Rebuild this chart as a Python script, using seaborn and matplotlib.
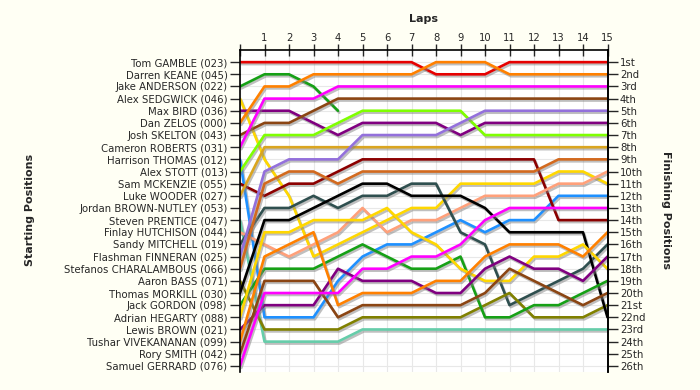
import matplotlib
matplotlib.use("Agg")
import matplotlib.pyplot as plt
import matplotlib.patheffects as pe
import pandas as pd
import seaborn as sns

laps = list(range(16))

drivers = [
    "Tom GAMBLE (023)", "Darren KEANE (045)", "Jake ANDERSON (022)", "Alex SEDGWICK (046)",
    "Max BIRD (036)", "Dan ZELOS (000)", "Josh SKELTON (043)", "Cameron ROBERTS (031)",
    "Harrison THOMAS (012)", "Alex STOTT (013)", "Sam MCKENZIE (055)", "Luke WOODER (027)",
    "Jordan BROWN-NUTLEY (053)", "Steven PRENTICE (047)", "Finlay HUTCHISON (044)",
    "Sandy MITCHELL (019)", "Flashman FINNERAN (025)", "Stefanos CHARALAMBOUS (066)",
    "Aaron BASS (071)", "Thomas MORKILL (030)", "Jack GORDON (098)", "Adrian HEGARTY (088)",
    "Lewis BROWN (021)", "Tushar VIVEKANANAN (099)", "Rory SMITH (042)", "Samuel GERRARD (076)",
]

finish_labels = ["1st", "2nd", "3rd"] + [f"{i}th" for i in range(4, 21)] + ["21st", "22nd", "23rd", "24th", "25th", "26th"]

# positions per lap (lap 0 = starting position)
gamble = [1, 1, 1, 1, 1, 1, 1, 1, 2, 2, 2, 1, 1, 1, 1, 1]
keane = []
anderson = [3, 2, 2, 3, 5]
sedgwick = [4, 9, 12, 17, 16, 15, 14, 13, 13, 11, 11, 11, 11, 10, 10, 11]
bird = [5, 5, 5, 6, 7, 6, 6, 6, 6, 7, 6, 6, 6, 6, 6, 6]
zelos = [6, 3, 3, 2, 2, 2, 2, 2, 1, 1, 1, 2, 2, 2, 2, 2]
skelton = [7, 6, 6, 5, 4, 4, 4, 4, 4, 4, 4, 4, 4, 4, 4, 4]
roberts = [8, 4, 4, 4, 3, 3, 3, 3, 3, 3, 3, 3, 3, 3, 3, 3]
thomas = [9, 22, 22, 22, 19, 17, 16, 16, 15, 14, 15, 14, 14, 12, 12, 12]
stott = [10, 7, 7, 7, 6, 5, 5, 5, 5, 5, 7, 7, 7, 7, 7, 7]
mckenzie = [11, 12, 11, 11, 10, 9, 9, 9, 9, 9, 9, 9, 9, 14, 14, 14]
wooder = [12, 8, 8, 8, 8, 8, 8, 8, 8, 8, 8, 8, 8, 8, 8, 8]
brown_nutley = []
prentice = [14, 24, 24, 24, 24, 23, 23, 23, 23, 23, 23, 23, 23, 23, 23, 23]
hutchison = [15, 16, 17, 16, 15, 13, 15, 14, 14, 13, 12, 12, 12, 11, 11, 10]
mitchell = [16, 13, 13, 12, 13, 12, 12, 11, 11, 15, 16, 21, 20, 19, 18, 16]
finneran = [17, 10, 9, 9, 9, 7, 7, 7, 7, 6, 5, 5, 5, 5, 5, 5]
charalambous = [18, 11, 10, 10, 11, 10, 10, 10, 10, 10, 10, 10, 10, 9, 9, 9]
bass = [19, 23, 23, 23, 23, 22, 22, 22, 22, 22, 21, 20, 22, 22, 22, 21]
morkill = [20, 14, 14, 13, 12, 11, 11, 12, 12, 12, 13, 15, 15, 15, 15, 22]
gordon = [21, 18, 18, 18, 17, 16, 17, 18, 18, 17, 22, 22, 21, 21, 20, 19]
hegarty = [22, 15, 15, 14, 14, 14, 13, 15, 16, 18, 19, 19, 17, 17, 16, 18]
lewis_brown = [23, 21, 21, 21, 18, 19, 19, 19, 20, 20, 18, 17, 18, 18, 19, 17]
vivekananan = [24, 17, 16, 15, 21, 20, 20, 20, 19, 19, 17, 16, 16, 16, 17, 15]
smith = [25, 19, 19, 19, 22, 21, 21, 21, 21, 21, 20, 18, 19, 20, 21, 20]
gerrard = [26, 20, 20, 20, 20, 18, 18, 17, 17, 16, 14, 13, 13, 13, 13, 13]

positions = [gamble, keane, anderson, sedgwick, bird, zelos, skelton, roberts, thomas, stott,
             mckenzie, wooder, brown_nutley, prentice, hutchison, mitchell, finneran,
             charalambous, bass, morkill, gordon, hegarty, lewis_brown, vivekananan, smith, gerrard]

colors = ["#E60000", "#888888", "#16A016", "#FFD700", "#800080", "#FF8000", "#8B4513", "#FF00FF",
          "#1E90FF", "#7FFF00", "#8B0000", "#DAA520", "#888888", "#66CDAA", "#FFA07A",
          "#2F4F4F", "#9370DB", "#D2691E", "#808000", "#000000", "#16A016", "#FFD700",
          "#800080", "#FF8000", "#8B4513", "#FF00FF"]

rows = []
for name, pos in zip(drivers, positions):
    for lap, p in zip(laps, pos):
        rows.append({"lap": lap, "pos": p, "driver": name})
df = pd.DataFrame(rows)
palette = {d: c for d, c in zip(drivers, colors)}

sns.set_style("white")
plt.rcParams["font.family"] = ["DejaVu Sans"]

fig = plt.figure(figsize=(7, 3.9), dpi=100, facecolor="#FFFFF4")
ax = fig.add_axes([240 / 700, 1 - 372 / 390, (607.5 - 240) / 700, (372 - 50) / 390])
ax.set_facecolor("white")

sns.lineplot(data=df, x="lap", y="pos", hue="driver", palette=palette, estimator=None,
             sort=False, linewidth=1.9, legend=False, ax=ax)
for ln in ax.lines:
    ln.set_path_effects([pe.SimpleLineShadow(offset=(1.0, -1.4), shadow_color="#808080", alpha=0.5),
                         pe.Normal()])
    ln.set_solid_joinstyle("round")

ax.set_xlim(0, 15)
ax.set_ylim(26.5, 0)
ax.set_xticks(laps)
ax.set_xticklabels([""] + [str(i) for i in laps[1:]])
ax.xaxis.tick_top()
ax.xaxis.set_label_position("top")
ax.set_xlabel("Laps", fontsize=8, fontweight="bold", labelpad=8)
ax.set_ylabel("")
ax.set_yticks(range(1, 27))
ax.set_yticklabels(drivers)
ax.tick_params(axis="x", direction="inout", length=8, width=1, labelsize=7.2, pad=1)
ax.tick_params(axis="y", direction="out", length=7, width=1, labelsize=7.3, pad=2)
ax.grid(True, color="#E8E8E8", linewidth=0.8)
ax.set_axisbelow(True)
for s in ["top", "left", "right"]:
    ax.spines[s].set_visible(True)
    ax.spines[s].set_color("black")
    ax.spines[s].set_linewidth(1.2)
ax.spines["bottom"].set_visible(False)

ax2 = ax.twinx()
ax2.set_ylim(26.5, 0)
ax2.set_yticks(range(1, 27))
ax2.set_yticklabels(finish_labels)
ax2.tick_params(axis="y", direction="out", length=7, width=1, labelsize=7.3, pad=2)
for s in ["top", "bottom", "left"]:
    ax2.spines[s].set_visible(False)
ax2.spines["right"].set_color("black")
ax2.spines["right"].set_linewidth(1.2)

fig.text(30 / 700, 1 - 210 / 390, "Starting Positions", rotation=90, fontsize=8,
         fontweight="bold", ha="center", va="center")
fig.text(666 / 700, 1 - 210 / 390, "Finishing Positions", rotation=-90, fontsize=8,
         fontweight="bold", ha="center", va="center")

fig.savefig("out.png", dpi=100, facecolor=fig.get_facecolor())
